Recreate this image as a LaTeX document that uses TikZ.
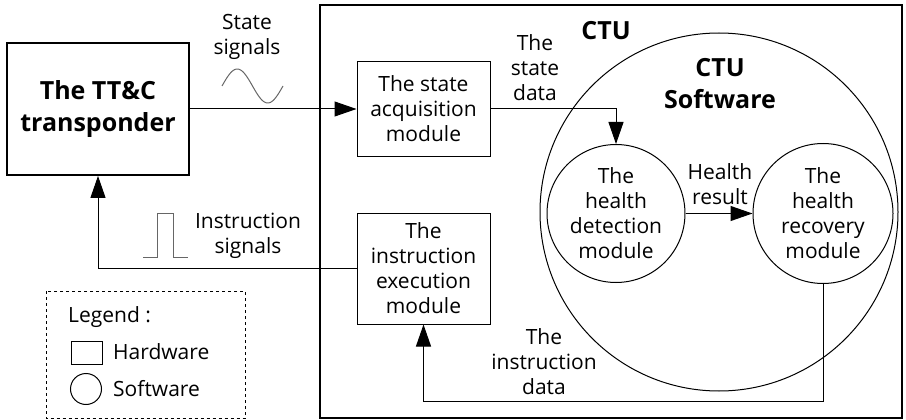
\documentclass[tikz,border=0pt]{standalone}
\usepackage{fontspec}
\setmainfont{Open Sans}
\usepackage{tikz}
\usetikzlibrary{arrows.meta,positioning,shapes}

\tikzset{
  txt/.style={align=center,inner sep=0pt,font=\fontsize{21}{25}\selectfont},
  bigtxt/.style={align=center,inner sep=0pt,font=\fontsize{25}{32}\selectfont\bfseries},
  hw/.style={draw,rectangle,txt,line width=1pt},
  sw/.style={draw,circle,txt,line width=1pt},
  arr/.style={line width=1pt,-{Triangle[length=22pt,width=15pt]}},
  wire/.style={line width=1pt}
}

\begin{document}
\begin{tikzpicture}[x=1pt,y=-1pt]
\useasboundingbox (0,0) rectangle (906,420);
% hardware side
\node[hw,bigtxt,line width=1.8pt,minimum width=182pt,minimum height=132pt] (tt) at (98,109) {The TT\&C\\transponder};
\draw[line width=1.3pt] (320,5) rectangle (902,418);
\node[bigtxt] (ctu) at (606,31) {CTU};
\node[hw,minimum width=133pt,minimum height=94pt] (acq) at (423.5,109) {The state\\acquisition\\module};
\node[hw,minimum width=133pt,minimum height=111pt] (exe) at (423.5,268.5) {The\\instruction\\execution\\module};
% software side
\node[sw,minimum size=358pt] (ctusw) at (719,212) {};
\node[bigtxt] (swlab) at (720,84) {CTU\\Software};
\node[sw,minimum size=138pt] (det) at (616,213.5) {The\\health\\detection\\module};
\node[sw,minimum size=140pt] (rec) at (823,213.5) {The\\health\\recovery\\module};
% connectors
\draw[arr] (tt.east) -- (acq.west);
\draw[arr] (acq.east) -| (det.north);
\draw[arr] (det.east) -- (rec.west);
\coordinate (bot) at (0,401);
\draw[arr] (rec.south) -- (rec.south |- bot) -| (exe.south);
\draw[arr] (exe.west) -| (tt.south);
% signal labels
\node[txt] (stsig) at (247,37) {State\\signals};
\draw[gray!80!black,line width=1pt,domain=0:360,samples=60] plot ({222+\x/360*61},{86-17*sin(\x)});
\node[txt] (insig) at (248,236) {Instruction\\signals};
\draw[gray!80!black,line width=1pt] (143,257) -- (157,257) -- (157,213) -- (173,213) -- (173,257) -- (188,257);
\node[txt] (stdata) at (535,68) {The\\state\\data};
\node[txt] (hres) at (720,184) {Health\\result};
\node[txt] (indata) at (544,362) {The\\instruction\\data};
% legend
\draw[dashed,line width=0.8pt] (46,291) rectangle (245,418.5);
\node[txt,anchor=west] (leg) at (68,317) {Legend :};
\node[draw,line width=1pt,minimum width=31pt,minimum height=23pt,inner sep=0pt] (leghw) at (86.5,352.5) {};
\node[txt,anchor=west] (leghwt) at (113,352) {Hardware};
\node[draw,circle,line width=1pt,minimum size=31pt,inner sep=0pt] (legsw) at (86,389) {};
\node[txt,anchor=west] (legswt) at (113,389) {Software};
\end{tikzpicture}
\end{document}
